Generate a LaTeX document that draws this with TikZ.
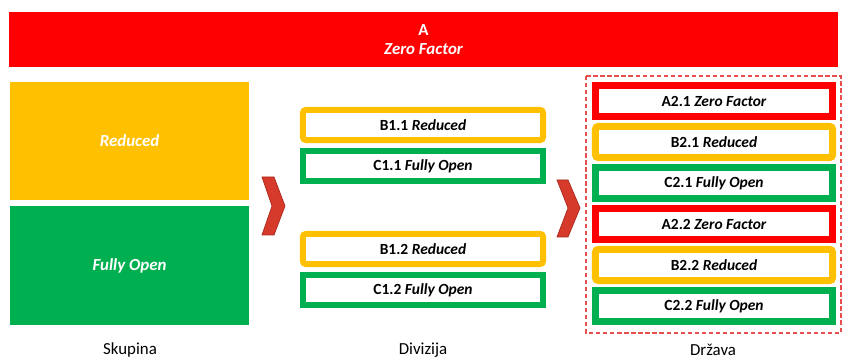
\documentclass[tikz,border=0pt]{standalone}
\usepackage{fontspec}
\setmainfont{Carlito}
\usepackage{xcolor}
\usetikzlibrary{positioning, fit}
\definecolor{levelred}{RGB}{255, 0, 0}
\definecolor{levelyellow}{RGB}{255, 192, 0}
\definecolor{levelgreen}{RGB}{0, 176, 80}
\definecolor{chevronred}{RGB}{214, 58, 42}
\definecolor{chevronedge}{RGB}{170, 40, 30}
\definecolor{framered}{RGB}{232, 80, 80}

\begin{document}
\begin{tikzpicture}[
    x=0.025cm, y=-0.025cm,
    bigblock/.style={
        rectangle,
        fill=#1,
        minimum width=5.975cm,
        minimum height=2.95cm,
        text=white,
        font=\bfseries\itshape\large
    },
    midbox/.style={
        rectangle,
        draw=#1,
        fill=white,
        line width=0.15cm,
        minimum width=6.0cm,
        minimum height=0.75cm,
        font=\fontsize{11}{13}\selectfont
    },
    statebox/.style={
        rectangle,
        draw=#1,
        fill=white,
        line width=0.17cm,
        minimum width=5.93cm,
        minimum height=0.78cm,
        font=\fontsize{11}{13}\selectfont
    },
    level/.style={
        font=\large
    },
    chevron/.style={
        fill=chevronred,
        draw=chevronedge,
        line width=0.5pt
    }
]

% Margins of the page
\useasboundingbox (0,0) rectangle (845,359);

% Top bar
\node[rectangle, fill=levelred, minimum width=20.725cm, minimum height=1.375cm,
      text=white, align=center, font=\large] (topbar) at (423.5,39.5)
      {\bfseries A\\[-1pt]\bfseries\itshape Zero Factor};

% Skupina
\node[bigblock=levelyellow] (skreduced) at (129.5,141) {Reduced};
\node[bigblock=levelgreen] (skopen) at (129.5,265.5) {Fully Open};

% Divizija
\node[midbox=levelyellow, rounded corners=2pt] (b11) at (423,125) {\bfseries B1.1 \itshape Reduced};
\node[midbox=levelgreen] (c11) at (423,166) {\bfseries C1.1 \itshape Fully Open};
\node[midbox=levelyellow, rounded corners=2pt] (b12) at (423,249) {\bfseries B1.2 \itshape Reduced};
\node[midbox=levelgreen] (c12) at (423,290) {\bfseries C1.2 \itshape Fully Open};

% Drzava
\node[statebox=levelred] (a21) at (714,101) {\bfseries A2.1 \itshape Zero Factor};
\node[statebox=levelyellow, rounded corners=2pt] (b21) at (714,142) {\bfseries B2.1 \itshape Reduced};
\node[statebox=levelgreen] (c21) at (714,183) {\bfseries C2.1 \itshape Fully Open};
\node[statebox=levelred] (a22) at (714,224) {\bfseries A2.2 \itshape Zero Factor};
\node[statebox=levelyellow, rounded corners=2pt] (b22) at (714,265) {\bfseries B2.2 \itshape Reduced};
\node[statebox=levelgreen] (c22) at (714,306) {\bfseries C2.2 \itshape Fully Open};

% Dashed frame
\draw[framered, line width=0.9pt, dash pattern=on 3pt off 2pt] (586,76) rectangle (841,333);

% Chevrons
\fill[chevron] (262,177) -- (274,177) -- (285,206) -- (274,235) -- (262,235) -- (272,206) -- cycle;
\fill[chevron] (557,180) -- (568,180) -- (580,208) -- (568,237) -- (557,237) -- (568,208) -- cycle;

% Level names
\node[level] (skupina) at (130,350) {Skupina};
\node[level] (divizija) at (423,350) {Divizija};
\node[level] (drzava) at (713,350) {Država};

\end{tikzpicture}
\end{document}
